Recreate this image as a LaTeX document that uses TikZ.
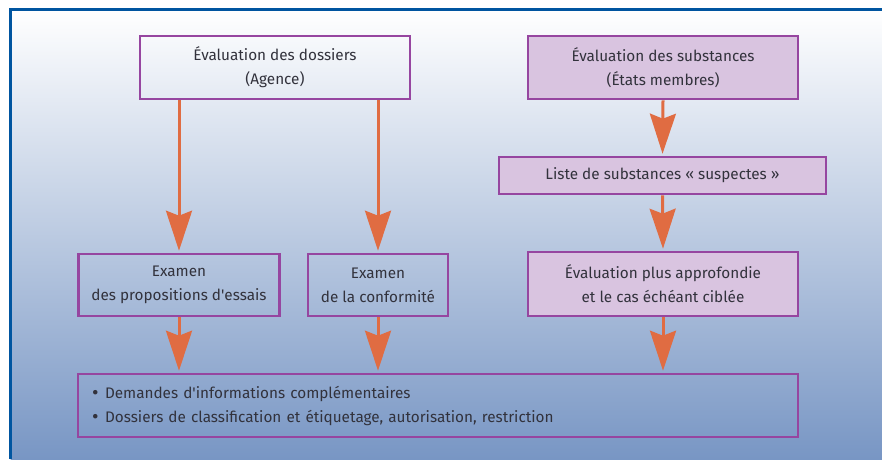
\documentclass[tikz,border=0pt]{standalone}
\usepackage{fontspec}
\setmainfont{Fira Sans}
\usetikzlibrary{arrows.meta}
\definecolor{framebl}{RGB}{0,85,160}
\definecolor{bordpur}{RGB}{150,70,160}
\definecolor{fillpur}{RGB}{217,196,224}
\definecolor{arrowor}{RGB}{224,108,66}
\definecolor{txtgray}{RGB}{50,50,60}
\definecolor{bgbot}{RGB}{120,150,196}
\newcommand{\bul}{\makebox[13pt][l]{\fontsize{20}{20}\selectfont\raisebox{-1.2pt}{•}}}
\begin{document}
\begin{tikzpicture}[x=1pt,y=-1pt,
  box/.style={draw=bordpur,line width=2.6pt,rectangle,inner sep=0pt,align=center,
    text=txtgray,font=\fontsize{15.3}{24}\selectfont},
  pbox/.style={box,fill=fillpur},
  arr/.style={draw=arrowor,line width=3pt,-{Stealth[length=40pt,width=26pt,inset=5pt]},shorten >=2pt}]
\useasboundingbox (0,0) rectangle (882,459);
\fill[white] (0,0) rectangle (882,459);
\shade[top color=white,bottom color=bgbot] (10.7,9.7) rectangle (882,459);
\draw[framebl,line width=2.7pt] (10.7,459) -- (10.7,9.7) -- (882,9.7);
\node[box,minimum width=270pt,minimum height=63pt] (b1) at (275,67.5) {Évaluation des dossiers\\(Agence)};
\node[pbox,minimum width=270pt,minimum height=63pt] (b2) at (663,67.5) {Évaluation des substances\\(États membres)};
\node[pbox,minimum width=327pt,minimum height=37pt] (b3) at (662.5,175.5) {Liste de substances « suspectes »};
\node[box,minimum width=201pt,minimum height=62pt] (b4) at (179,285) {Examen\\des propositions d\textquotesingle essais};
\node[box,minimum width=140pt,minimum height=62pt] (b5) at (378,285) {Examen\\de la conformité};
\node[pbox,minimum width=270pt,minimum height=64pt] (b6) at (663,284) {Évaluation plus approfondie\\et le cas échéant ciblée};
\node[box,minimum width=720pt,minimum height=63pt,text width=692pt,align=left,inner xsep=14pt] (b7) at (438,405.5)
  {\bul Demandes d\textquotesingle informations complémentaires\\\bul Dossiers de classification et étiquetage, autorisation, restriction};
\draw[arr] (b1.south -| b4.north) -- (b4.north);
\draw[arr] (b1.south -| b5.north) -- (b5.north);
\draw[arr] (b2.south) -- (b3.north);
\draw[arr] (b3.south) -- (b6.north);
\draw[arr] (b4.south) -- (b4.south |- b7.north);
\draw[arr] (b5.south) -- (b5.south |- b7.north);
\draw[arr] (b6.south) -- (b6.south |- b7.north);
\end{tikzpicture}
\end{document}
